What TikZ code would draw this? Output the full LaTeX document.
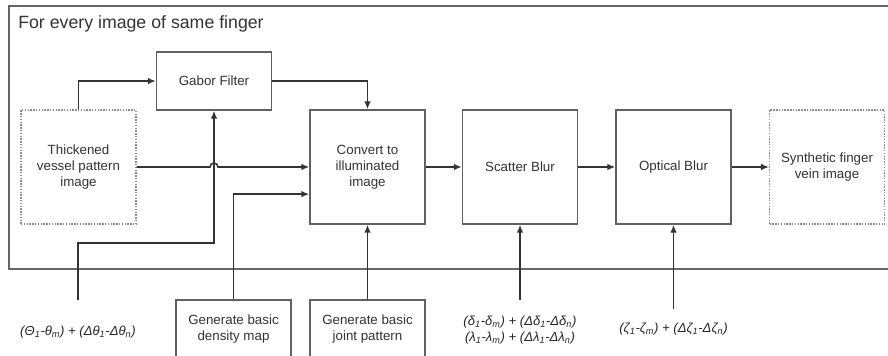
\documentclass[tikz,border=0pt]{standalone}
\usepackage{fontspec}
\setmainfont{Liberation Sans}
\usetikzlibrary{arrows.meta,positioning,calc}

\begin{document}
\begin{tikzpicture}[x=0.75pt,y=-0.75pt,>=Latex,
  blk/.style={draw=black!62,line width=1.1pt,fill=white,align=center,
    font=\fontsize{10}{12}\selectfont,text=black!80,
    minimum width=86.25pt,minimum height=85.5pt,inner sep=0pt},
  imgbox/.style={blk,draw=black!45,densely dotted,line width=0.8pt},
  flow/.style={draw=black!80,line width=1.15pt,-{Latex[length=6pt,width=5pt]}},
  lbl/.style={font=\fontsize{9.8}{12}\selectfont\itshape,align=center,text=black!85,inner sep=0pt}]
\clip (0,0) rectangle (888,356);
% outer frame + title
\draw[draw=black!60,line width=1.1pt] (9,6) rectangle (900,269);
\node[anchor=west,inner sep=0pt,font=\fontsize{13.3}{16}\selectfont,text=black!80] (title) at (18,24) {For every image of same finger};
% blocks
\node[imgbox] (vessel) at (78.5,167) {Thickened\\vessel pattern\\image};
\node[blk,minimum height=43.5pt] (gabor) at (214,81) {Gabor Filter};
\node[blk] (convert) at (367.5,167) {Convert to\\illuminated\\image};
\node[blk] (scatter) at (520,167) {Scatter Blur};
\node[blk] (optical) at (673.5,167) {Optical Blur};
\node[imgbox] (synth) at (827,167) {Synthetic finger\\vein image};
\node[blk,minimum height=43.5pt] (density) at (233.5,329) {Generate basic\\density map};
\node[blk,minimum height=43.5pt] (joint) at (367.5,329) {Generate basic\\joint pattern};
% parameter labels
\node[lbl] (theta) at (78,332) {(Θ\textsubscript{1}-θ\textsubscript{m}) + (Δθ\textsubscript{1}-Δθ\textsubscript{n})};
\node[lbl] (deltalambda) at (520,330) {(δ\textsubscript{1}-δ\textsubscript{m}) + (Δδ\textsubscript{1}-Δδ\textsubscript{n})\\(λ\textsubscript{1}-λ\textsubscript{m}) + (Δλ\textsubscript{1}-Δλ\textsubscript{n})};
\node[lbl] (zeta) at (673.5,329) {(ζ\textsubscript{1}-ζ\textsubscript{m}) + (Δζ\textsubscript{1}-Δζ\textsubscript{n})};
\coordinate (thetatop) at (78,300);
\coordinate (dltop) at (520,300);
\coordinate (zetatop) at (673.5,309);
% connectors
\draw[flow] (vessel.north) |- (gabor.west);
\draw[flow] (gabor.east) -| (convert.north);
\draw[flow] (vessel.east) -- ($(gabor.south |- vessel.east)+(-3pt,0)$) arc[start angle=180,end angle=0,radius=3pt] -- (convert.west);
\draw[flow] (thetatop) -- ++(0,-57) -| (gabor.south);
\draw[flow] (density.north) |- ($(convert.west)!0.47!(convert.south west)$);
\draw[flow] (joint.north) -- (convert.south);
\draw[flow] (convert.east) -- (scatter.west);
\draw[flow] (scatter.east) -- (optical.west);
\draw[flow] (optical.east) -- (synth.west);
\draw[flow] (dltop) -- (scatter.south);
\draw[flow] (zetatop) -- (optical.south);
\end{tikzpicture}
\end{document}
